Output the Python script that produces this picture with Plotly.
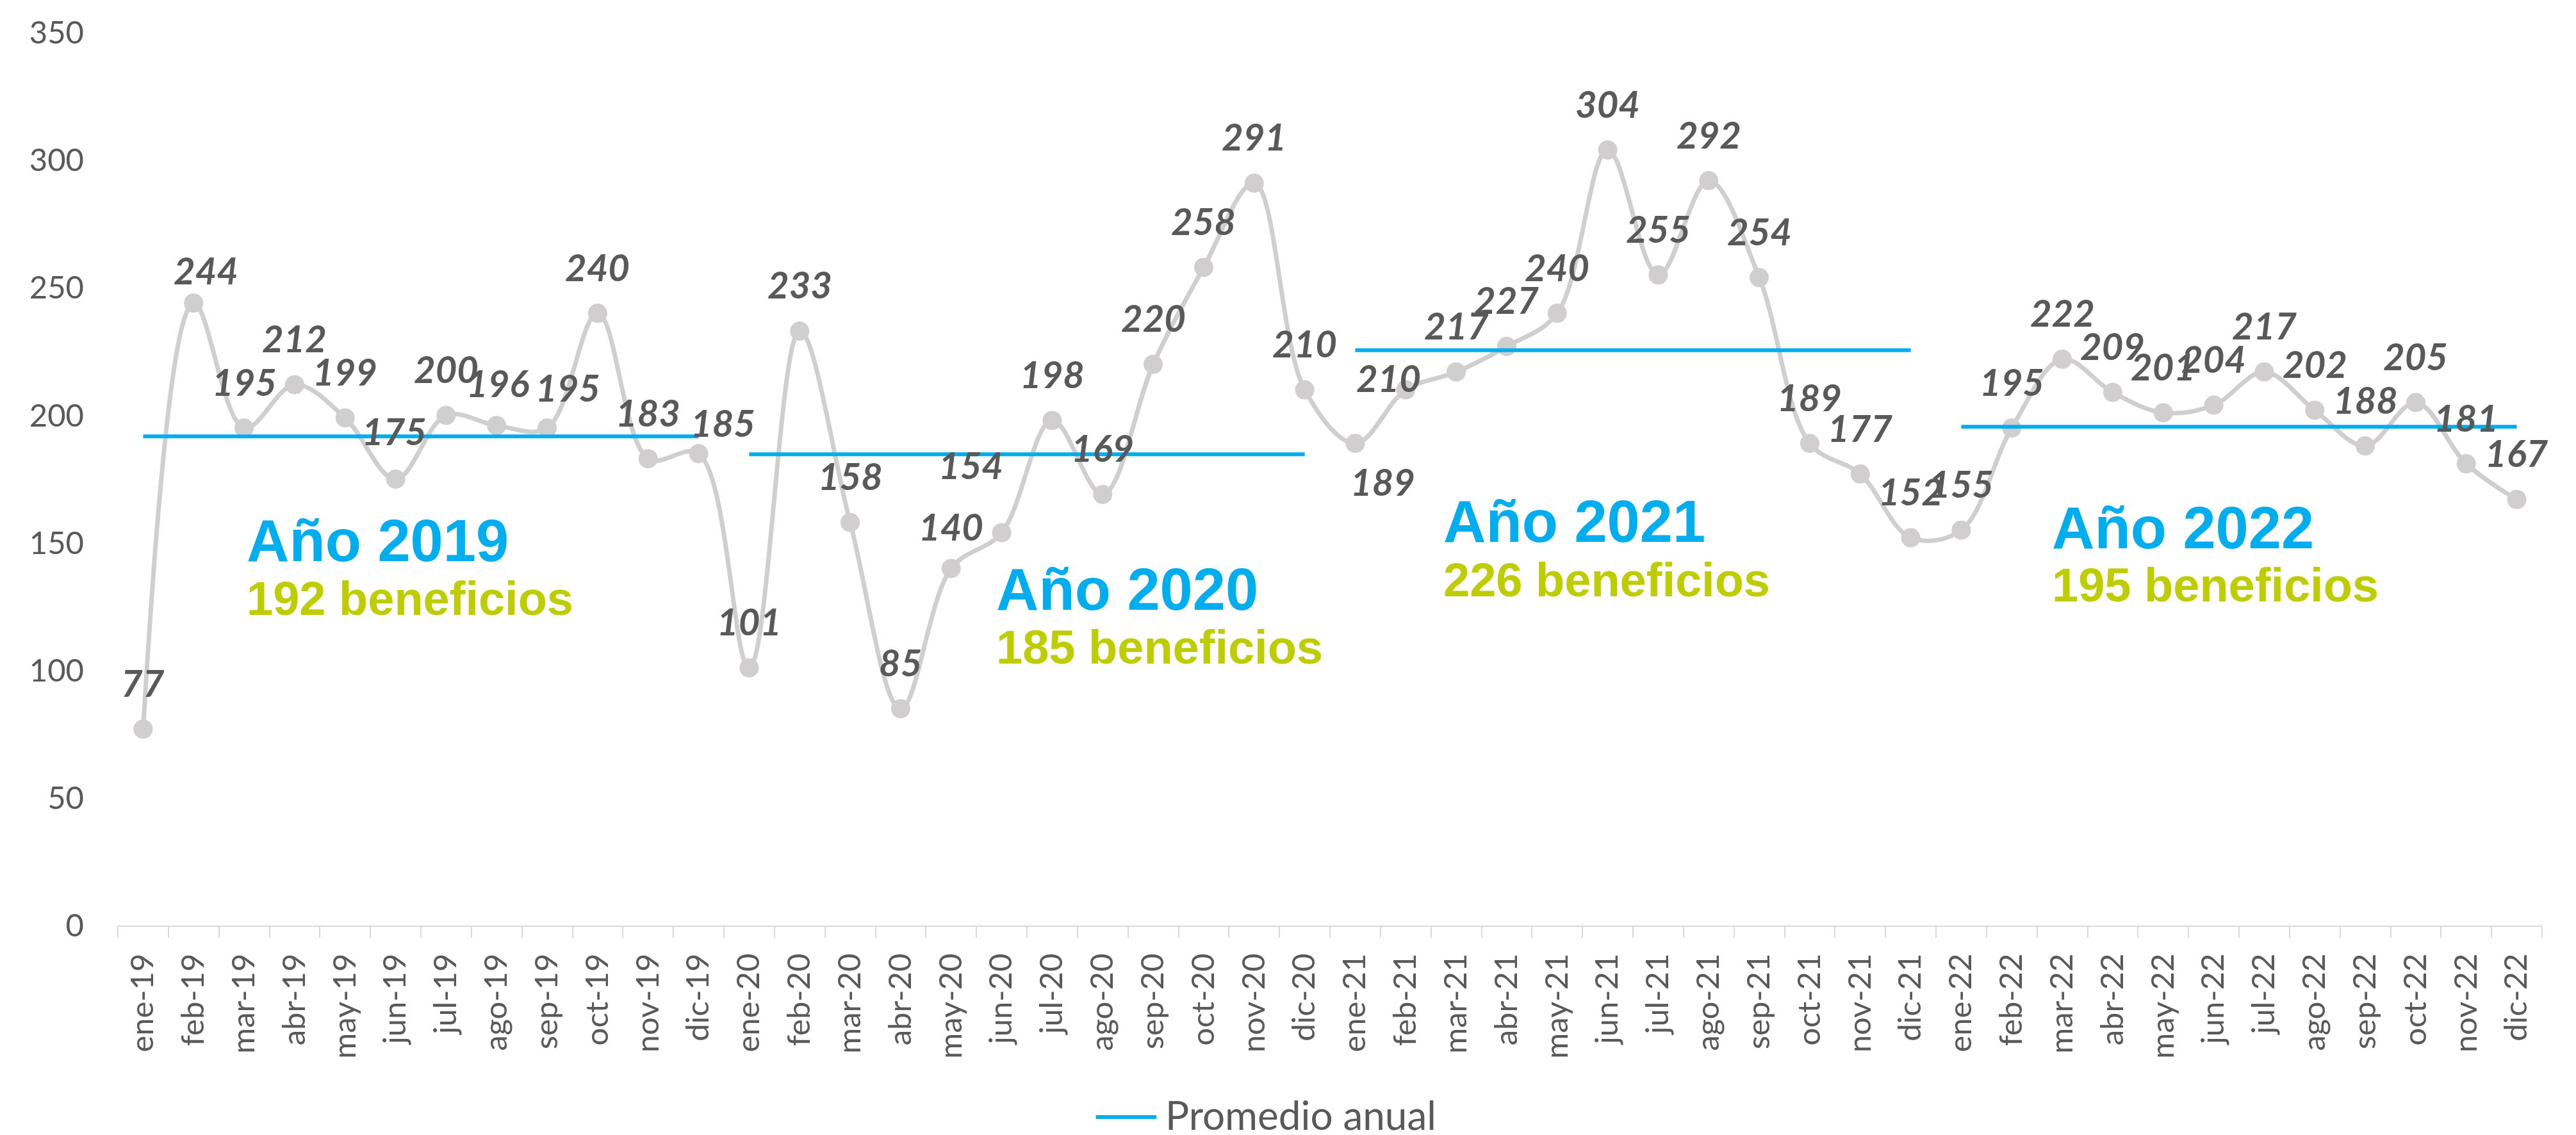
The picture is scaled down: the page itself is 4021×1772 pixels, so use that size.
import plotly.graph_objects as go

# Colores
gris = "#D0CECE"
azul = "#00AEEF"
verde = "#BDCD00"
texto = "#595959"

# Datos
meses = ["ene", "feb", "mar", "abr", "may", "jun", "jul", "ago", "sep", "oct", "nov", "dic"]
anios = ["2019", "2020", "2021", "2022"]
beneficios_2019 = [77, 244, 195, 212, 199, 175, 200, 196, 195, 240, 183, 185]
beneficios_2020 = [101, 233, 158, 85, 140, 154, 198, 169, 220, 258, 291, 210]
beneficios_2021 = [189, 210, 217, 227, 240, 304, 255, 292, 254, 189, 177, 152]
beneficios_2022 = [155, 195, 222, 209, 201, 204, 217, 202, 188, 205, 181, 167]
promedio_anual = [191.75, 184.75, 225.5, 195.5]
titulos = ["Año 2019", "Año 2020", "Año 2021", "Año 2022"]
subtitulos = ["192 beneficios", "185 beneficios", "226 beneficios", "195 beneficios"]

categorias = [f"{m}-{a[2:]}" for a in anios for m in meses]
valores = beneficios_2019 + beneficios_2020 + beneficios_2021 + beneficios_2022

# Desplazamiento de etiquetas (xshift, yshift) en px; por defecto (0, 73)
desplaza = {1: (19, 52), 5: (-2, 76), 7: (2, 67), 8: (32, 64), 11: (38, 49),
            16: (0, 66), 17: (-48, 106), 24: (43, -59), 25: (-27, 19)}

# Posicion de los textos de cada anio (indice de categoria, valor)
pos_titulo = [(2.02, 150.8), (16.87, 131.9), (25.72, 158.5), (37.77, 156.0)]
pos_subtitulo = [(2.02, 128.2), (16.87, 109.1), (25.72, 135.5), (37.77, 133.4)]

fig = go.Figure()
fig.add_trace(go.Scatter(x=categorias, y=valores, mode="lines+markers",
                         line=dict(color=gris, width=7, shape="spline", smoothing=1),
                         marker=dict(size=30, color=gris),
                         name="Beneficios", showlegend=False))

for k, anio in enumerate(anios):
    cats = categorias[12 * k:12 * k + 12]
    fig.add_trace(go.Scatter(x=[cats[0], cats[-1]], y=[promedio_anual[k]] * 2,
                             mode="lines", line=dict(color=azul, width=6),
                             name="Promedio anual", legendgroup="prom",
                             showlegend=False))

for i, (c, v) in enumerate(zip(categorias, valores)):
    dx, dy = desplaza.get(i, (0, 73))
    fig.add_annotation(x=c, y=v, text=str(v), showarrow=False,
                       xshift=dx, yshift=dy, xanchor="center", yanchor="middle",
                       font=dict(family="Lato", size=58, color=texto,
                                 weight="bold", style="italic"))

for k in range(len(anios)):
    fig.add_annotation(x=pos_titulo[k][0], y=pos_titulo[k][1], text=titulos[k],
                       showarrow=False, xanchor="left", yanchor="middle",
                       font=dict(family="Liberation Sans", size=92, color=azul,
                                 weight="bold"))
    fig.add_annotation(x=pos_subtitulo[k][0], y=pos_subtitulo[k][1], text=subtitulos[k],
                       showarrow=False, xanchor="left", yanchor="middle",
                       font=dict(family="Liberation Sans", size=74, color=verde,
                                 weight="bold"))

# Leyenda manual
fig.add_shape(type="line", xref="paper", yref="paper",
              x0=0.4035, x1=0.4284, y0=-0.2145, y1=-0.2145,
              line=dict(color=azul, width=6))
fig.add_annotation(xref="paper", yref="paper", x=0.4316, y=-0.2115,
                   text="Promedio anual", showarrow=False,
                   xanchor="left", yanchor="middle",
                   font=dict(family="Lato", size=62, color=texto))

fig.update_layout(
    width=4021, height=1772,
    margin=dict(l=176, r=61, t=43, b=335),
    plot_bgcolor="white", paper_bgcolor="white",
    showlegend=False,
    xaxis=dict(type="category", range=[-0.5, 47.5], showgrid=False,
               showline=True, linecolor="#D9D9D9", linewidth=2,
               ticks="outside", tickson="boundaries", ticklen=17,
               tickcolor="#D9D9D9", tickwidth=2, tickangle=-90,
               ticklabelstandoff=22,
               tickfont=dict(family="Lato", size=49, color=texto)),
    yaxis=dict(range=[0, 350], dtick=50, showgrid=False, showline=False,
               zeroline=False, ticks="", ticklabelstandoff=52,
               tickfont=dict(family="Lato", size=49, color=texto)),
)

fig.write_html("out.html")
